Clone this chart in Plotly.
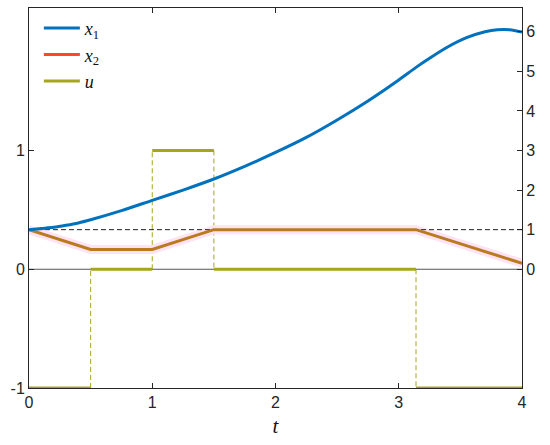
import plotly.graph_objects as go

# ---- data ----
t_x1 = [0, 0.1, 0.2, 0.3, 0.4, 0.5, 0.75, 1.0, 1.25, 1.5, 1.75, 2.0, 2.25, 2.5, 2.75,
        3.0, 3.14, 3.25, 3.4, 3.55, 3.7, 3.8, 3.9, 4.0]
x1 = [1.0, 1.03, 1.06, 1.11, 1.17, 1.25, 1.48, 1.74, 2.0, 2.28, 2.6, 2.95, 3.33, 3.77, 4.25,
      4.78, 5.10, 5.33, 5.62, 5.85, 6.0, 6.05, 6.05, 5.99]

t_x2 = [0, 0.5, 1.0, 1.5, 3.14, 4.0]
x2 = [1.0, 0.5, 0.5, 1.0, 1.0, 0.15]

u_switch = [0, 0.5, 1.0, 1.5, 3.14, 4.0]
u_vals = [-1, 0, 1, 0, -1]

ref_level = 1.0
x_ticks = [0, 1, 2, 3, 4]
left_ticks = [-1, 0, 1]
left_labels = ["-1", "0", "1"]
right_ticks = [0, 1, 2, 3, 4, 5, 6]

BLUE = "#0072BD"
RED = "#FF4A1E"
BROWN = "#BA7A1E"
OLIVE = "#A6A61E"
PINK = "#FFE2F4"
AX = "#262626"

fig = go.Figure()

# zero line of left axis
fig.add_trace(go.Scatter(x=[u_switch[0], u_switch[-1]], y=[0, 0], mode="lines",
                         line=dict(color="#555555", width=1), showlegend=False,
                         hoverinfo="skip"))

# u: solid horizontal segments and dashed vertical jumps
for i, v in enumerate(u_vals):
    fig.add_trace(go.Scatter(x=[u_switch[i], u_switch[i + 1]], y=[v, v], mode="lines",
                             line=dict(color=OLIVE, width=3), showlegend=False))
for i in range(1, len(u_vals)):
    fig.add_trace(go.Scatter(x=[u_switch[i], u_switch[i]], y=[u_vals[i - 1], u_vals[i]],
                             mode="lines", line=dict(color=OLIVE, width=1, dash="5px,3px"),
                             showlegend=False))

# pink glow behind x2
fig.add_trace(go.Scatter(x=t_x2, y=x2, mode="lines", yaxis="y2",
                         line=dict(color=PINK, width=9), showlegend=False))
# dashed reference at x=1
fig.add_trace(go.Scatter(x=[t_x2[0], t_x2[-1]], y=[ref_level, ref_level], mode="lines",
                         yaxis="y2", line=dict(color="#222222", width=1, dash="5px,3px"),
                         showlegend=False))
# x2
fig.add_trace(go.Scatter(x=t_x2, y=x2, mode="lines", yaxis="y2",
                         line=dict(color=BROWN, width=3), showlegend=False))
# x1
fig.add_trace(go.Scatter(x=t_x1, y=x1, mode="lines", yaxis="y2", line_shape="spline",
                         line=dict(color=BLUE, width=3, smoothing=0.8), showlegend=False))

# legend entries
for name, col in [("<i>x</i><sub>1</sub>", BLUE), ("<i>x</i><sub>2</sub>", RED),
                  ("<i>u</i>", OLIVE)]:
    fig.add_trace(go.Scatter(x=[None], y=[None], mode="lines", name=name,
                             line=dict(color=col, width=3)))

tickfont = dict(family="Liberation Sans, Arial", size=16, color="#262626")

fig.update_layout(
    width=550, height=445,
    margin=dict(l=29, r=28, t=8, b=57),
    plot_bgcolor="white", paper_bgcolor="white",
    showlegend=True,
    legend=dict(x=0.02, y=0.995, xanchor="left", yanchor="top",
                bgcolor="rgba(0,0,0,0)", borderwidth=0,
                font=dict(family="Liberation Serif, DejaVu Serif", size=18, color="#111"),
                tracegroupgap=0, itemwidth=36),
    xaxis=dict(range=[0, 4], tickvals=x_ticks, ticks="inside", ticklen=5,
               tickcolor=AX, showline=True, linecolor=AX, linewidth=1, mirror="ticks",
               showgrid=False, zeroline=False, tickfont=tickfont, automargin=False,
               title=dict(text="<i>t</i>", font=dict(family="Liberation Serif, DejaVu Serif",
                                                      size=21, color="#111"), standoff=8)),
    yaxis=dict(range=[-1, 2.2], tickvals=left_ticks, ticktext=left_labels,
               ticks="inside", ticklen=5, automargin=False,
               tickcolor=AX, showline=True, linecolor=AX, linewidth=1,
               showgrid=False, zeroline=False, tickfont=tickfont),
    yaxis2=dict(range=[-3, 6.6], tickvals=right_ticks, ticks="inside", ticklen=5,
                tickcolor=AX, showline=True, linecolor=AX, linewidth=1, automargin=False,
                overlaying="y", side="right", showgrid=False, zeroline=False,
                tickfont=tickfont),
)

fig.write_html("out.html", config={"displayModeBar": False},
               post_script="document.body.style.margin='0';")
